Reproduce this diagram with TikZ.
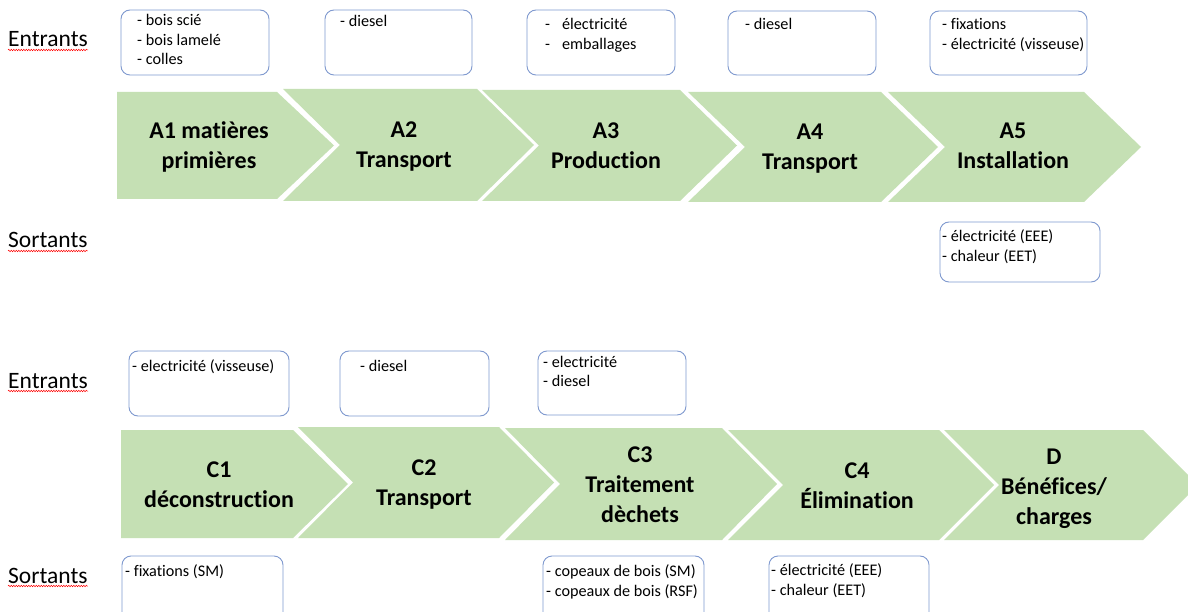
\documentclass[tikz,border=0pt]{standalone}
\usepackage{fontspec}
\setmainfont[Ligatures=NoCommon]{Carlito}
\usetikzlibrary{decorations.pathmorphing}
\definecolor{chevgreen}{HTML}{C5E0B4}
\definecolor{boxblue}{HTML}{7F99CF}
\newcommand\chevron[6]{% x1, x2, ytop, ybot, depth, notch
  \fill[chevgreen] (#1,#3) -- (#2,#3) -- ({#2+#5},{(#3+#4)/2}) -- (#2,#4) -- (#1,#4) -- ({#1+#6},{(#3+#4)/2}) -- cycle;}
\begin{document}
\begin{tikzpicture}[x=1pt,y=-1pt,
  side/.style={font=\fontsize{23.5}{28}\selectfont, anchor=base west, inner sep=0pt},
  stage/.style={font=\fontsize{24}{30}\selectfont\bfseries, align=center, anchor=base, inner sep=0pt},
  box/.style={draw=boxblue, line width=0.9pt, rounded corners=9pt},
  item/.style={font=\fontsize{16.2}{19.5}\selectfont, anchor=base west, align=left, inner sep=0pt},
  squig/.style={red, line width=0.5pt, decorate, decoration={snake, amplitude=0.7pt, segment length=2.5pt}}]
\useasboundingbox (0,0) rectangle (1188,612);
\clip (0,0) rectangle (1188,612);
\fill[white] (0,0) rectangle (1188,612);

% ---- side labels
\node[side] (e1) at (8,47) {Entrants};
\node[side] (s1) at (8,248) {Sortants};
\node[side] (e2) at (8,388) {Entrants};
\node[side] (s2) at (8,583) {Sortants};
\foreach \n in {e1,s1,e2,s2}
  \draw[squig] ([yshift=-3pt]\n.base west) -- ([yshift=-3pt]\n.base east);

% ---- row A chevrons
\chevron{117}{277}{92}{199}{57}{0}
\chevron{283}{477}{89}{201}{57}{57}
\chevron{482}{680}{90}{201}{57}{57}
\chevron{688}{881}{92}{202}{57}{57}
\chevron{888}{1084}{92}{202}{57}{57}
% (anchor = baseline of the last line)
\node[stage] (a1) at (209,169) {A1 matières\\primières};
\node[stage] (a2) at (404,168) {A2\\Transport};
\node[stage] (a3) at (606,169) {A3\\Production};
\node[stage] (a4) at (810,170) {A4\\Transport};
\node[stage] (a5) at (1013,169) {A5\\Installation};

% ---- row C chevrons
\chevron{121}{293}{430}{538}{55}{0}
\chevron{298}{499}{427}{538}{55}{55}
\chevron{505}{722}{428}{540}{55}{55}
\chevron{728}{939}{430}{540}{55}{55}
\chevron{944}{1143}{430}{540}{55}{55}
\node[stage] (c1) at (219,507) {C1\\déconstruction};
\node[stage] (c2) at (424,505) {C2\\Transport};
\node[stage] (c3) at (640,522) {C3\\Traitement\\dèchets};
\node[stage] (c4) at (857,508) {C4\\Élimination};
\node[stage] (d) at (1054,524) {D\\Bénéfices/\\charges};

% ---- boxes row A
\draw[box] (121,10) rectangle (269,75);
\draw[box] (325,10) rectangle (472,75);
\draw[box] (527,10) rectangle (675,75);
\draw[box] (728,11) rectangle (876,75);
\draw[box] (930,11) rectangle (1087,75);
\draw[box] (940,222) rectangle (1100,282);
% (anchor = baseline of the last line)
\node[item] (ai1) at (137,65) {- bois scié\\- bois lamelé\\- colles};
\node[item] (ai2) at (340,27) {- diesel};
\node[item] (ai3) at (545,49.5) {-\hspace{12pt}électricité\\-\hspace{12pt}emballages};
\node[item] (ai4) at (745,30) {- diesel};
\node[item] (ai5) at (942,49.5) {- fixations\\- électricité (visseuse)};
\node[item] (ao5) at (942,261.5) {- électricité (EEE)\\- chaleur (EET)};

% ---- boxes row C
\draw[box] (129,351) rectangle (289,416);
\draw[box] (340,351) rectangle (489,416);
\draw[box] (538,351) rectangle (686,415);
\draw[box] (122,556) rectangle (283,630);
\draw[box] (543,556) rectangle (704,630);
\draw[box] (769,556) rectangle (929,630);
\node[item] (ci1) at (132,371) {- electricité (visseuse)};
\node[item] (ci2) at (360,371) {- diesel};
\node[item] (ci3) at (543,386.5) {- electricité\\- diesel};
\node[item] (co1) at (125,576) {- fixations (SM)};
\node[item] (co3) at (546,596) {- copeaux de bois (SM)\\- copeaux de bois (RSF)};
\node[item] (co4) at (771,595) {- électricité (EEE)\\- chaleur (EET)};
\end{tikzpicture}
\end{document}
